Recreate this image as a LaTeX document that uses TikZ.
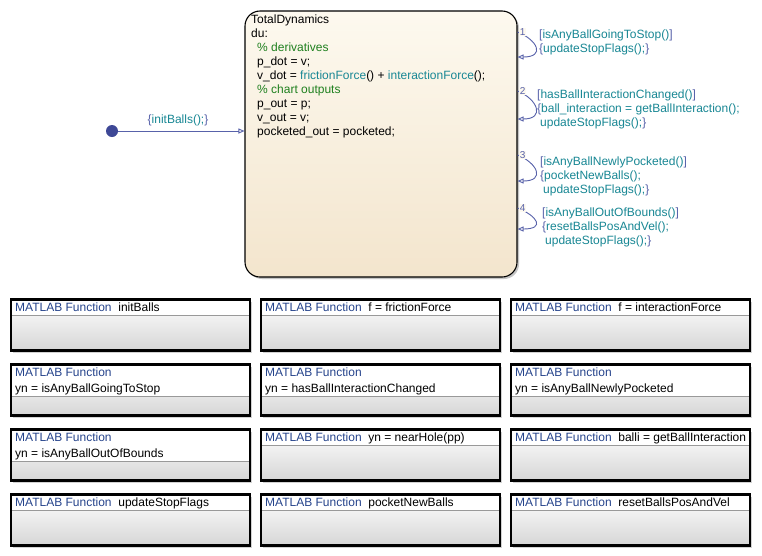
\documentclass[tikz,border=0pt]{standalone}
\usepackage{fontspec}
\setmainfont{Liberation Sans}
\usetikzlibrary{arrows.meta,shadows}

\definecolor{mlblue}{RGB}{38,68,140}
\definecolor{mlteal}{RGB}{24,135,148}
\definecolor{mlgreen}{RGB}{30,128,30}
\definecolor{trblue}{RGB}{88,98,170}
\definecolor{dotblue}{RGB}{62,72,150}
\definecolor{chartTop}{RGB}{253,249,239}
\definecolor{chartBot}{RGB}{243,229,205}

\newcommand{\fnc}[1]{\textcolor{mlteal}{#1}}
\newcommand{\brk}[1]{\textcolor{trblue}{#1}}

\begin{document}
\begin{tikzpicture}[x=1pt,y=-1pt,
    every node/.style={font=\fontsize{12}{14}\selectfont, inner sep=0pt},
    chart/.style={draw, line width=1.1pt, rounded corners=15pt,
      top color=chartTop, bottom color=chartBot,
      drop shadow={shadow xshift=2pt, shadow yshift=-2pt, fill=black!45}},
    fblock/.style={draw, line width=2.2pt, fill=white,
      minimum width=239pt, minimum height=51pt,
      drop shadow={shadow xshift=2pt, shadow yshift=-2pt, fill=black!35},
      path picture={
        \shade[top color=white, bottom color=black!16]
          ([yshift=-#1]path picture bounding box.north west) rectangle (path picture bounding box.south east);
        \draw[black!40, line width=0.7pt]
          ([yshift=-#1]path picture bounding box.north west) -- ([yshift=-#1]path picture bounding box.north east);
      }},
    trans/.style={draw=trblue, line width=0.9pt, -{Triangle[open, length=6pt, width=5pt]}},
    loopnum/.style={font=\fontsize{10}{12}\selectfont, text=trblue, fill=chartTop, inner sep=0.6pt},
    tlabel/.style={anchor=north west, align=left},
    initdot/.style={circle, fill=dotblue, minimum size=12pt}]

    \fill[white] (0,0) rectangle (762,555);
    \useasboundingbox (0,0) rectangle (762,555);

    % chart state
    \node[chart, minimum width=272pt, minimum height=266pt] (dyn) at (381,144) {};
    \node[tlabel] (dyntext) at (251,14.5) {TotalDynamics\\
      du:\\
      \hspace*{6pt}\textcolor{mlgreen}{\% derivatives}\\
      \hspace*{6pt}p\_dot = v;\\
      \hspace*{6pt}v\_dot = \fnc{frictionForce}() + \fnc{interactionForce}();\\
      \hspace*{6pt}\textcolor{mlgreen}{\% chart outputs}\\
      \hspace*{6pt}p\_out = p;\\
      \hspace*{6pt}v\_out = v;\\
      \hspace*{6pt}pocketed\_out = pocketed;};

    % default transition
    \node[initdot] (init) at (112,131) {};
    \draw[trans] (init) -- (dyn.west |- init);
    \node (initlbl) at (178,120) {\brk{\{}\fnc{initBalls();}\brk{\}}};

    % self loops on the right side
    \foreach \k/\ya/\yb in {1/32/57, 2/91/119, 3/155/181, 4/208/229} {
      \coordinate (o\k) at (dyn.east |- 0,\ya);
      \coordinate (i\k) at (dyn.east |- 0,\yb);
      \draw[trans] (o\k) .. controls +(20,8) and +(28,0) .. (i\k);
      \node[loopnum] (n\k) at ([xshift=5pt]o\k) {\k};
    }

    \node[tlabel] (cond1) at (539,29.5) {\brk{[}\fnc{isAnyBallGoingToStop()}\brk{]}\\
      \brk{\{}\fnc{updateStopFlags();}\brk{\}}};
    \node[tlabel] (cond2) at (537,89.5) {\brk{[}\fnc{hasBallInteractionChanged()}\brk{]}\\
      \brk{\{}\fnc{ball\_interaction = getBallInteraction();}\\
      \hspace*{3pt}\fnc{updateStopFlags();}\brk{\}}};
    \node[tlabel] (cond3) at (540,156.5) {\brk{[}\fnc{isAnyBallNewlyPocketed()}\brk{]}\\
      \brk{\{}\fnc{pocketNewBalls();}\\
      \hspace*{3pt}\fnc{updateStopFlags();}\brk{\}}};
    \node[tlabel] (cond4) at (542,208) {\brk{[}\fnc{isAnyBallOutOfBounds()}\brk{]}\\
      \brk{\{}\fnc{resetBallsPosAndVel();}\\
      \hspace*{3pt}\fnc{updateStopFlags();}\brk{\}}};

    % MATLAB function blocks
    \foreach \c/\r/\l/\fname in {
        1/1/1/initBalls, 2/1/1/{f = frictionForce}, 3/1/1/{f = interactionForce},
        1/2/2/{yn = isAnyBallGoingToStop}, 2/2/2/{yn = hasBallInteractionChanged}, 3/2/2/{yn = isAnyBallNewlyPocketed},
        1/3/2/{yn = isAnyBallOutOfBounds}, 2/3/1/{yn = nearHole(pp)}, 3/3/1/{balli = getBallInteraction},
        1/4/1/updateStopFlags, 2/4/1/pocketNewBalls, 3/4/1/resetBallsPosAndVel} {
      \pgfmathsetmacro\x{11+(\c-1)*250}
      \pgfmathsetmacro\y{299.5+(\r-1)*65}
      \pgfmathsetmacro\sep{16*\l}
      \node[fblock=\sep pt] (fb\c\r) at (\x+119.5, \y+25.5) {};
      \ifnum\l=1
        \node[anchor=base west] (ft\c\r) at (\x+4, \y+12) {\textcolor{mlblue}{MATLAB Function}\ \ \fname};
      \else
        \node[anchor=base west] (ft\c\r) at (\x+4, \y+12) {\textcolor{mlblue}{MATLAB Function}};
        \node[anchor=base west] (fn\c\r) at (\x+4, \y+28) {\fname};
      \fi
    }

  \end{tikzpicture}
\end{document}
